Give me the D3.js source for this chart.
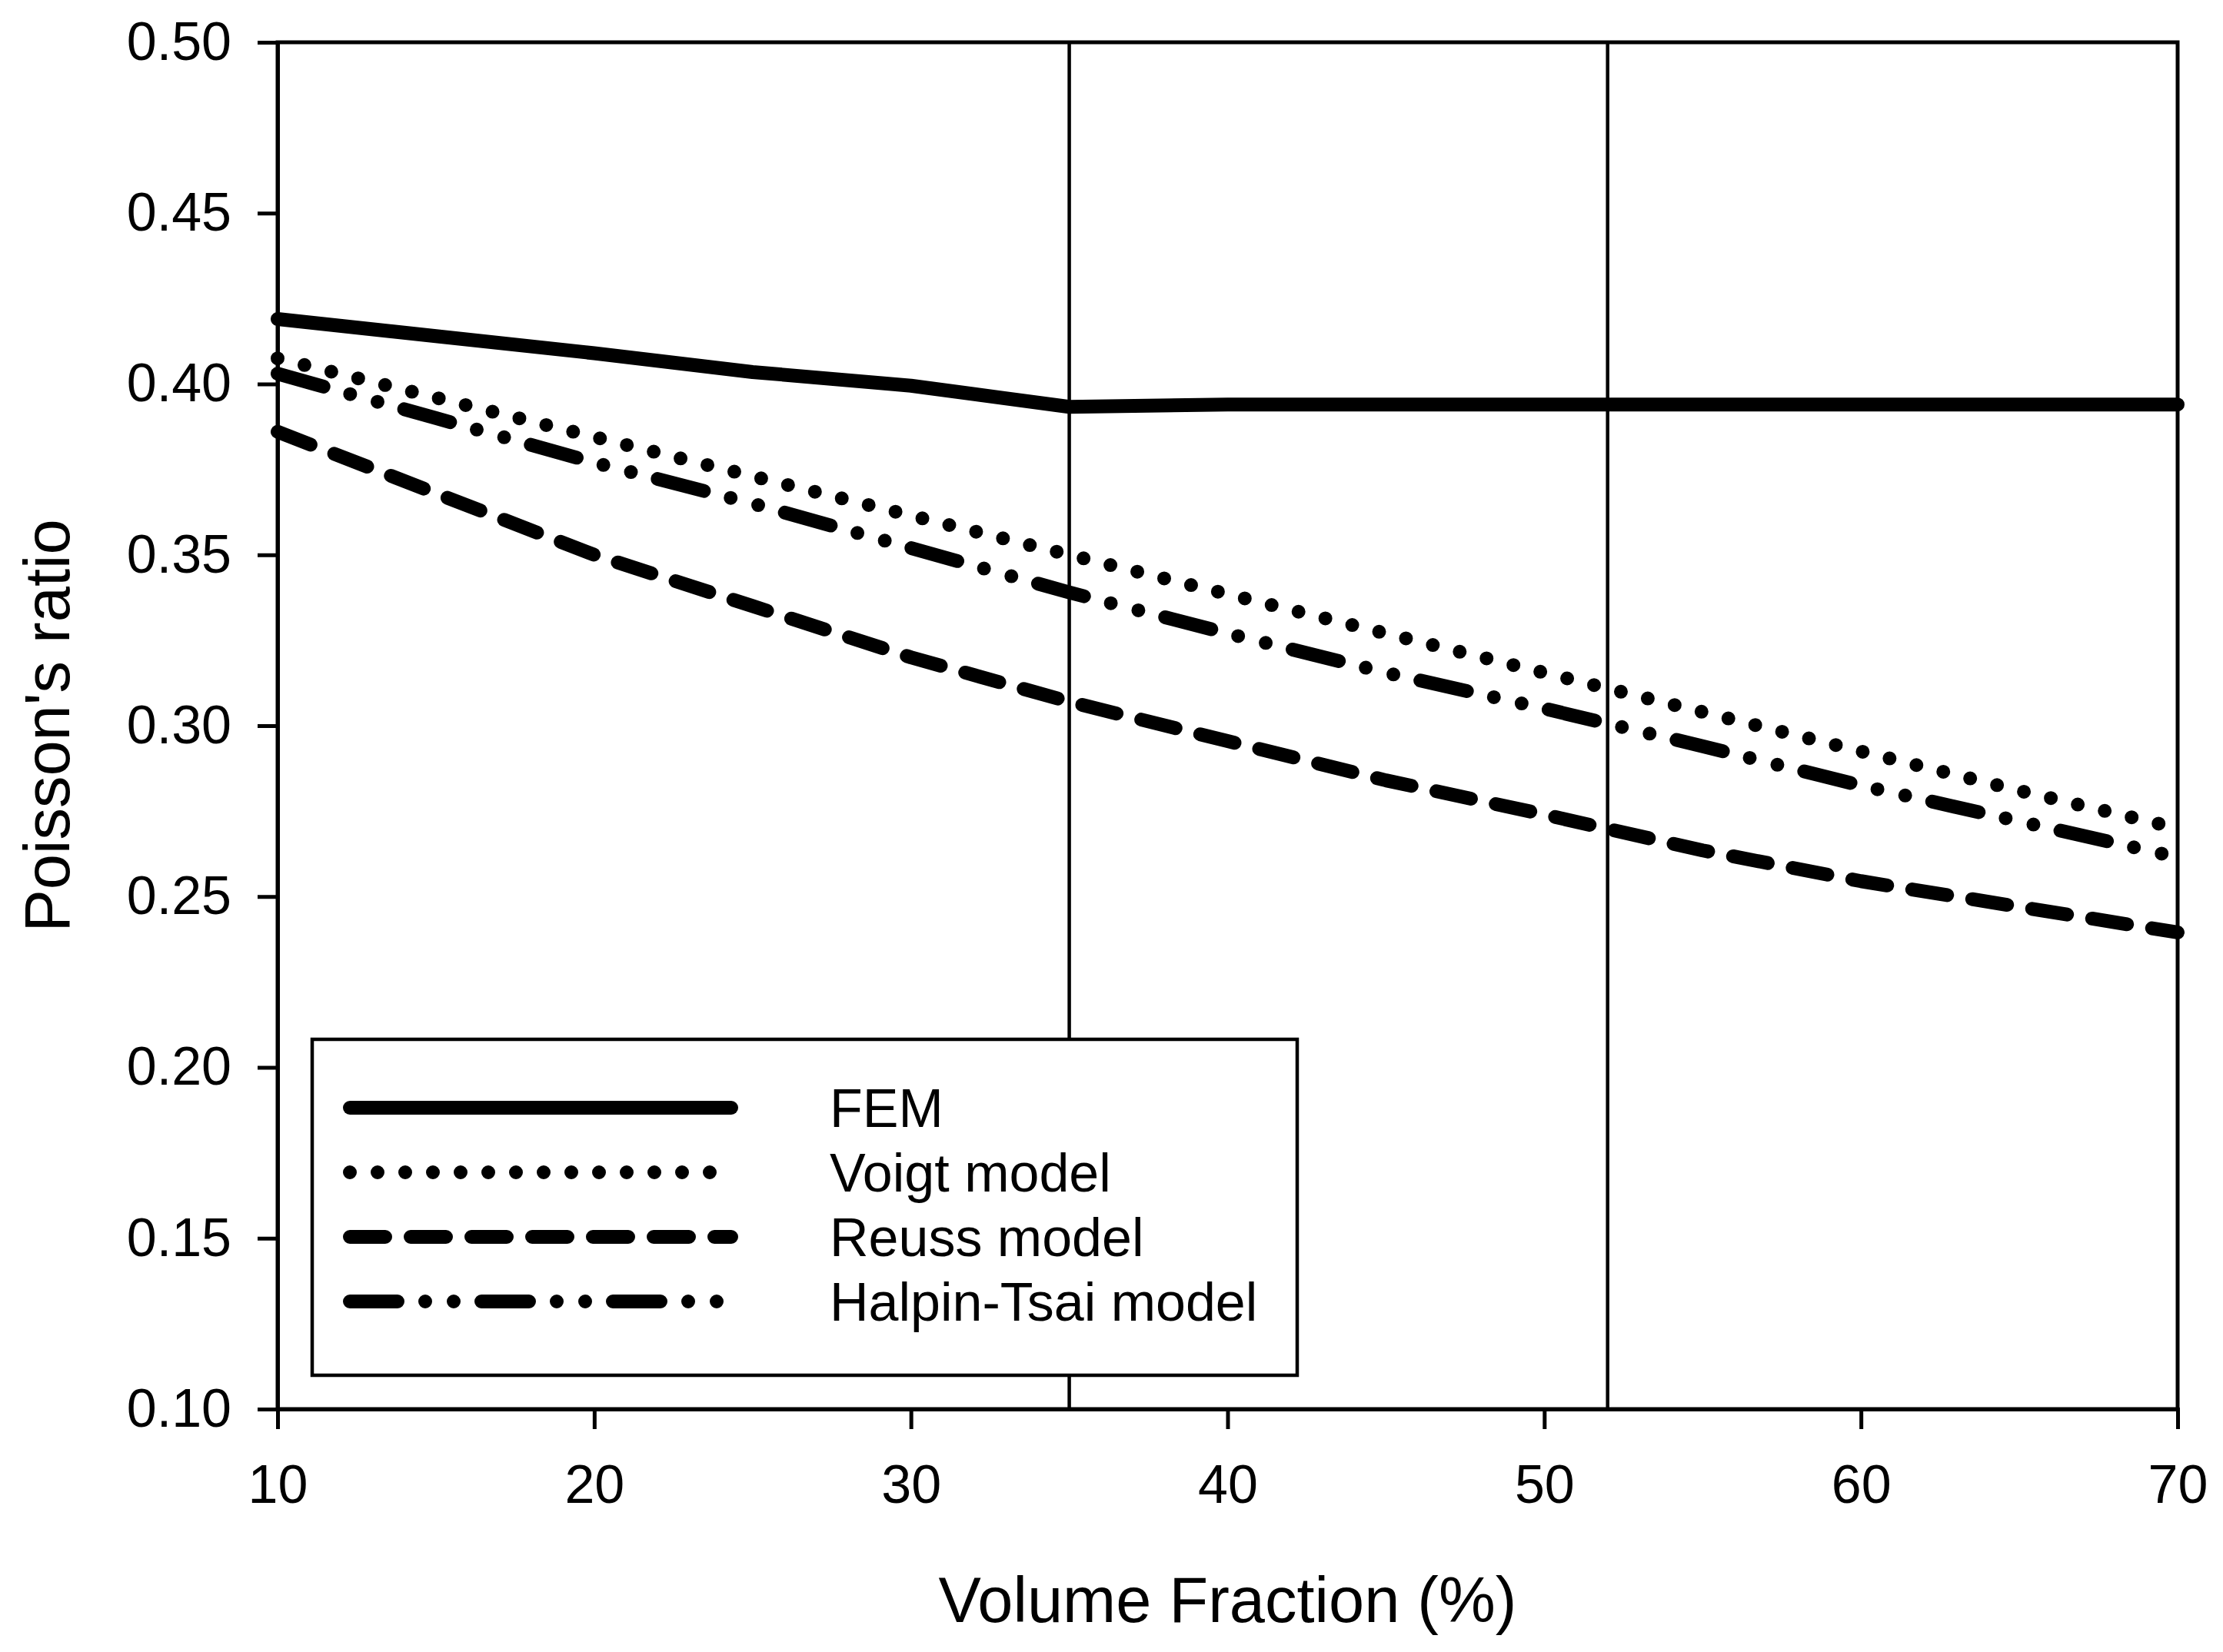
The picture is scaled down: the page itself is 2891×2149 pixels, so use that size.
<!DOCTYPE html>
<html>
<head>
<meta charset="utf-8">
<script src="https://cdn.jsdelivr.net/npm/d3@7"></script>
<style>
  body { margin: 0; background: #ffffff; }
  text { font-family: "Liberation Sans", Arial, sans-serif; fill: #000; }
</style>
</head>
<body>
<div id="plot"></div>
<script>
// values
const volumeFraction = [10, 15, 20, 25, 30, 35, 40, 45, 50, 55, 60, 65, 70];
const femValues = [0.419, 0.414, 0.409, 0.4035, 0.3995, 0.3933, 0.394, 0.394, 0.394, 0.394, 0.394, 0.394, 0.394];
const voigtValues = [0.4075, 0.396, 0.3845, 0.373, 0.3615, 0.350, 0.3385, 0.327, 0.3155, 0.304, 0.2925, 0.281, 0.270];
const reussValues = [0.386, 0.368, 0.350, 0.335, 0.320, 0.307, 0.2955, 0.284, 0.274, 0.2635, 0.2545, 0.247, 0.2395];
const halpinValues = [0.403, 0.390, 0.377, 0.365, 0.352, 0.339, 0.327, 0.3155, 0.305, 0.294, 0.2825, 0.272, 0.2615];
const refLines = [35, 52];
const xTicks = [10, 20, 30, 40, 50, 60, 70];
const yTicks = [0.10, 0.15, 0.20, 0.25, 0.30, 0.35, 0.40, 0.45, 0.50];
const seriesNames = ["FEM", "Voigt model", "Reuss model", "Halpin-Tsai model"];

let width = 2891,
    height = 2149;

let margin = { top: 55, right: 59, bottom: 316, left: 361 };

let svg = d3.select('#plot')
  .append('svg')
    .attr('width', width)
    .attr('height', height)
    .style('background', '#FFFFFF');

let xScale = d3.scaleLinear()
  .domain([10, 70])
  .range([margin.left, width - margin.right]);

let yScale = d3.scaleLinear()
  .domain([0.10, 0.50])
  .range([height - margin.bottom, margin.top]);

// dash styles for each series (stroke 18, round caps)
const dashes = [null, "0,36", "46,33", "62,36,0,37,0,36"];
const allValues = [femValues, voigtValues, reussValues, halpinValues];

// frame (top and right borders)
svg.append('rect')
  .attr('x', xScale(10))
  .attr('y', yScale(0.50))
  .attr('width', xScale(70) - xScale(10))
  .attr('height', yScale(0.10) - yScale(0.50))
  .attr('fill', 'none')
  .attr('stroke', '#000')
  .attr('stroke-width', 5);

// vertical reference lines
svg.selectAll('.ref')
  .data(refLines)
  .enter()
  .append('line')
    .attr('x1', d => xScale(d))
    .attr('x2', d => xScale(d))
    .attr('y1', yScale(0.50))
    .attr('y2', yScale(0.10))
    .attr('stroke', '#000')
    .attr('stroke-width', 4.5);

// axes
let yAxis = svg.append('g')
  .attr('transform', `translate(${margin.left},0)`)
  .call(d3.axisLeft(yScale).tickValues(yTicks).tickFormat(d3.format('.2f')).tickSize(26).tickPadding(34));

let xAxis = svg.append('g')
  .attr('transform', `translate(0,${height - margin.bottom})`)
  .call(d3.axisBottom(xScale).tickValues(xTicks).tickFormat(d3.format('d')).tickSize(26).tickPadding(46));

[xAxis, yAxis].forEach(ax => {
  ax.select('.domain').attr('stroke-width', 5);
  ax.selectAll('.tick line').attr('stroke-width', 5);
  ax.selectAll('.tick text')
    .attr('font-size', '70px')
    .attr('font-family', '"Liberation Sans", Arial, sans-serif');
});

// axis titles
svg.append('text')
  .attr('x', (xScale(10) + xScale(70)) / 2)
  .attr('y', 2110)
  .attr('text-anchor', 'middle')
  .attr('font-size', '83px')
  .text('Volume Fraction (%)');

svg.append('text')
  .attr('transform', `translate(90,${(yScale(0.10) + yScale(0.50)) / 2}) rotate(-90)`)
  .attr('text-anchor', 'middle')
  .attr('font-size', '83px')
  .text("Poisson's ratio");

// series lines
let line = d3.line()
  .x(d => xScale(d[0]))
  .y(d => yScale(d[1]));

allValues.forEach((vals, i) => {
  svg.append('path')
    .datum(volumeFraction.map((v, j) => [v, vals[j]]))
    .attr('d', line)
    .attr('fill', 'none')
    .attr('stroke', '#000')
    .attr('stroke-width', 18)
    .attr('stroke-linecap', 'round')
    .attr('stroke-linejoin', 'round')
    .attr('stroke-dasharray', dashes[i]);
});

// legend
let legend = svg.append('g');
legend.append('rect')
  .attr('x', 406)
  .attr('y', 1352)
  .attr('width', 1281)
  .attr('height', 437)
  .attr('fill', '#fff')
  .attr('stroke', '#000')
  .attr('stroke-width', 4.5);

seriesNames.forEach((name, i) => {
  let cy = 1441 + i * 84;
  legend.append('line')
    .attr('x1', 455)
    .attr('x2', 951)
    .attr('y1', cy)
    .attr('y2', cy)
    .attr('stroke', '#000')
    .attr('stroke-width', 18)
    .attr('stroke-linecap', 'round')
    .attr('stroke-dasharray', dashes[i]);
  legend.append('text')
    .attr('x', 1079)
    .attr('y', cy + 25)
    .attr('font-size', '70px')
    .text(name);
});
</script>
</body>
</html>
